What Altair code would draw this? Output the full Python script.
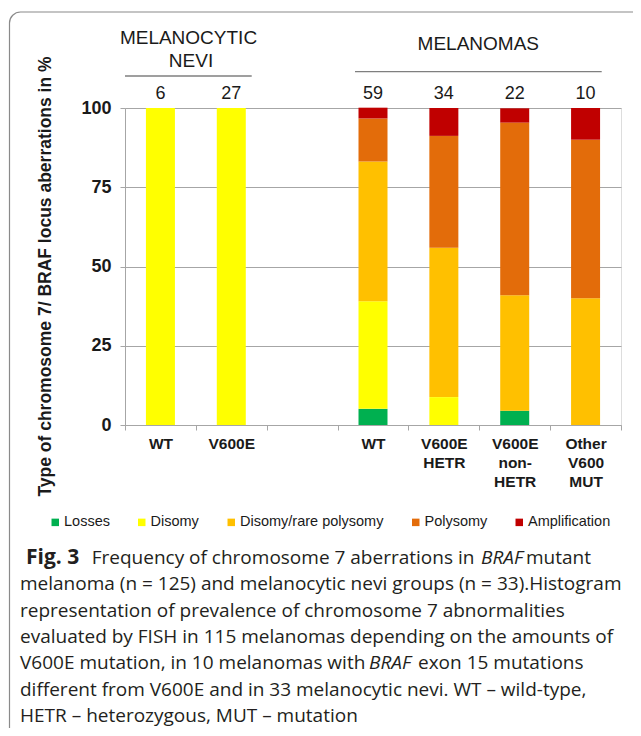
import altair as alt
import pandas as pd

# ---------------- data ----------------
categories = ["nevi_WT", "nevi_V600E", "gap", "mel_WT", "mel_V600E_HETR",
              "mel_V600E_nonHETR", "mel_Other"]
cat_labels = [["WT"], ["V600E"], [""], ["WT"], ["V600E", "HETR"],
              ["V600E", "non-", "HETR"], ["Other", "V600", "MUT"]]
group_n = [6, 27, None, 59, 34, 22, 10]

types = ["Losses", "Disomy", "Disomy/rare polysomy", "Polysomy", "Amplification"]
type_colors = ["#00B050", "#FFFF00", "#FFC000", "#E36C0A", "#C00000"]

# percentages per category, in order of `types`
pct_nevi_WT = [0, 100, 0, 0, 0]
pct_nevi_V600E = [0, 100, 0, 0, 0]
pct_mel_WT = [5.1, 33.9, 44.1, 13.6, 3.4]
pct_mel_V600E_HETR = [0, 8.8, 47.1, 35.3, 8.8]
pct_mel_V600E_nonHETR = [4.5, 0, 36.4, 54.5, 4.5]
pct_mel_Other = [0, 0, 40, 50, 10]

y_title = "Type of chromosome 7/ BRAF locus aberrations in %"
header_nevi = ["MELANOCYTIC", "NEVI"]
header_mel = "MELANOMAS"

caption_fig = "Fig. 3"
caption_l1a = "Frequency of chromosome 7 aberrations in"
caption_braf = "BRAF"
caption_l1b = "mutant"
caption_lines = [
    "melanoma (n = 125) and melanocytic nevi groups (n = 33).Histogram",
    "representation of prevalence of chromosome 7 abnormalities",
    "evaluated by FISH in 115 melanomas depending on the amounts of",
]
caption_l5a = "V600E mutation, in 10 melanomas with"
caption_l5b = "exon 15 mutations"
caption_lines2 = [
    "different from V600E and in 33 melanocytic nevi. WT \u2013 wild-type,",
    "HETR \u2013 heterozygous, MUT \u2013 mutation",
]

# ---------------- tables ----------------
pct_table = {
    "nevi_WT": pct_nevi_WT,
    "nevi_V600E": pct_nevi_V600E,
    "mel_WT": pct_mel_WT,
    "mel_V600E_HETR": pct_mel_V600E_HETR,
    "mel_V600E_nonHETR": pct_mel_V600E_nonHETR,
    "mel_Other": pct_mel_Other,
}
rows = []
for cat, vals in pct_table.items():
    for i, (t, v) in enumerate(zip(types, vals)):
        if v > 0:
            rows.append({"cat": cat, "type": t, "order": i, "pct": v})
bars_df = pd.DataFrame(rows)

n_df = pd.DataFrame([{"cat": c, "n": str(n), "top": 100}
                     for c, n in zip(categories, group_n) if n is not None])
one = pd.DataFrame({"k": [0]})

label_expr = "{}[indexof({}, datum.value)]".format(
    str(cat_labels).replace("'", '"'), str(categories).replace("'", '"'))

FONT = "Liberation Sans"
CAP_FONT = "Open Sans"
GRAY = "#a6a6a6"
TXT = "#1a1a1a"

x_enc = alt.X("cat:N", scale=alt.Scale(domain=categories, paddingInner=0, paddingOuter=0),
              axis=alt.Axis(title=None, labelAngle=0, labelExpr=label_expr,
                            labelFont=FONT, labelFontWeight="bold", labelFontSize=15.5,
                            labelColor=TXT, labelLineHeight=19, labelPadding=6,
                            tickBand="extent", tickSize=5, tickColor=GRAY,
                            domainColor=GRAY, grid=False))
y_enc = alt.Y("pct:Q", stack="zero", scale=alt.Scale(domain=[0, 100]),
              axis=alt.Axis(title=None, values=[0, 25, 50, 75, 100],
                            labelFont=FONT, labelFontWeight="bold", labelFontSize=18,
                            labelColor=TXT, labelPadding=9, tickSize=5,
                            tickColor=GRAY, domainColor=GRAY, gridColor=GRAY,
                            grid=True))

frame = alt.Chart(one).mark_rect(cornerRadius=11, fillOpacity=0, stroke="#8a8a8a",
                                 strokeWidth=1.2).encode(
    x=alt.value(-115.5), x2=alt.value(700), y=alt.value(-96), y2=alt.value(720))

bars = alt.Chart(bars_df).mark_bar(width=29).encode(
    x=x_enc,
    y=y_enc,
    color=alt.Color("type:N", scale=alt.Scale(domain=types, range=type_colors),
                    legend=alt.Legend(title=None, orient="none", direction="horizontal",
                                      legendX=-77, legendY=407, padding=0,
                                      symbolType="square", symbolSize=56,
                                      symbolStrokeWidth=0, labelFont=FONT,
                                      labelFontSize=14.5, labelColor=TXT,
                                      labelOffset=1.5, columnPadding=24.5)),
    order=alt.Order("order:Q", sort="ascending"),
)

counts = alt.Chart(n_df).mark_text(font=FONT, fontSize=18, color=TXT, dy=-9,
                                   baseline="alphabetic").encode(
    x=alt.X("cat:N", scale=alt.Scale(domain=categories)),
    y=alt.Y("top:Q"),
    text="n:N",
)


def txt(s, x, y, size, align="center", weight="normal", style="normal",
        font=FONT, angle=0, color=TXT):
    kw = dict(text=s, align=align, baseline="alphabetic", fontSize=size,
              fontWeight=weight, fontStyle=style, font=font, color=color)
    if angle:
        kw["angle"] = angle
    return alt.Chart(one).mark_text(**kw).encode(x=alt.value(x), y=alt.value(y))


def hline(x1, x2, y):
    return alt.Chart(one).mark_rule(color="#7f7f7f", strokeWidth=1.3).encode(
        x=alt.value(x1), x2=alt.value(x2), y=alt.value(y))


annots = [
    txt(y_title, -74, 168.5, 17.5, weight="bold", angle=270),
    txt(header_nevi[0], 63.5, -64, 19),
    txt(header_nevi[1], 66, -41.5, 19),
    txt(header_mel, 353.3, -58, 19),
    hline(0, 126.7, -32),
    hline(230, 476.7, -36.3),
]

cap_size = 19.0
CAPC = "#231f20"
L = -105          # left edge of caption lines (plot coords)
base = [456, 482.3, 508.6, 535, 561.3, 587.6, 614]
caps = [
    txt(caption_fig, -99, base[0], 21, align="left", weight="bold", font=CAP_FONT, color=CAPC),
    txt(caption_l1a, -33.3, base[0], cap_size, align="left", font=CAP_FONT, color=CAPC),
    txt(caption_braf, 356, base[0], cap_size, align="left", style="italic", font=CAP_FONT, color=CAPC),
    txt(caption_l1b, 401, base[0], cap_size, align="left", font=CAP_FONT, color=CAPC),
]
for i, line in enumerate(caption_lines):
    caps.append(txt(line, L, base[1 + i], cap_size, align="left", font=CAP_FONT, color=CAPC))
caps += [
    txt(caption_l5a, L, base[4], cap_size, align="left", font=CAP_FONT, color=CAPC),
    txt(caption_braf, 244, base[4], cap_size, align="left", style="italic", font=CAP_FONT, color=CAPC),
    txt(caption_l5b, 293, base[4], cap_size, align="left", font=CAP_FONT, color=CAPC),
]
for i, line in enumerate(caption_lines2):
    caps.append(txt(line, L, base[5 + i], cap_size, align="left", font=CAP_FONT, color=CAPC))

chart = alt.layer(frame, bars, counts, *annots, *caps).properties(
    width=496, height=317,
    autosize=alt.AutoSizeParams(type="none"),
    padding={"left": 117, "top": 100, "right": 12, "bottom": 303},
    background="white",
).configure_view(stroke=None).configure(font=FONT)

chart.save("out.html", embed_options={"renderer": "svg", "actions": False})
